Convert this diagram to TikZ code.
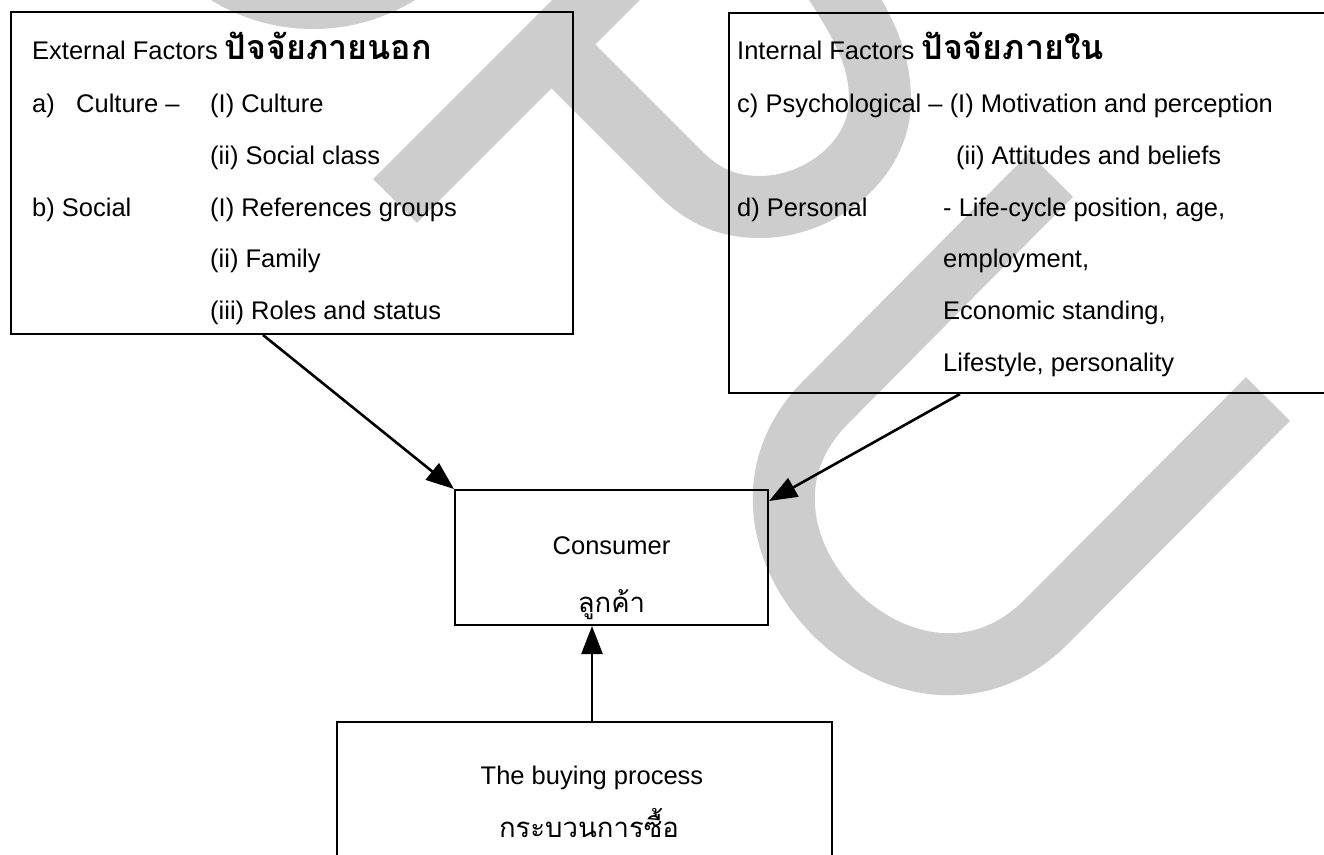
\documentclass[tikz,border=0pt]{standalone}
\usepackage{fontspec}
\setmainfont{Liberation Sans}
\newfontfamily\thaifont[Script=Thai]{Loma}
\usetikzlibrary{arrows.meta,calc}
\definecolor{wmgray}{RGB}{205,205,205}
\newcommand{\thaihead}[1]{{\thaifont\bfseries\fontsize{34}{36}\selectfont #1}}
\begin{document}
\begin{tikzpicture}[x=1pt,y=-1pt,
  box/.style={draw=black,line width=2pt,rectangle,inner sep=0pt},
  lbl/.style={anchor=base west,inner sep=0pt,font=\fontsize{25.5}{30}\selectfont},
  mid/.style={anchor=base,inner sep=0pt,font=\fontsize{25.5}{30}\selectfont},
  thaimid/.style={anchor=base,inner sep=0pt,font=\thaifont\fontsize{27.5}{30}\selectfont},
  arr/.style={line width=2.6pt,-{Triangle[length=28pt,width=21pt]}},
  wm/.style={draw=wmgray,line width=62pt,line cap=butt}]

\useasboundingbox (0,0) rectangle (1324,854);
\fill[white] (0,0) rectangle (1324,854);
\clip (0,0) rectangle (1324,854);

% background logo strokes
\draw[wm] (313,-165) circle[radius=163];
\draw[wm] (395,201) -- (650,-54);
\draw[wm] (551,44) -- (680,173) .. controls (705,198) and (730,207) .. (760,207)
  .. controls (820,207) and (880,160) .. (880,100)
  .. controls (880,50) and (855,15) .. (830,-25);
\draw[wm] (1051,175) -- (826,402) .. controls (691,537) and (911,757) .. (1046,622) -- (1268,399);

% boxes
\node[box, minimum width=562pt, minimum height=322pt] (ext) at (292,173) {};
\node[box, minimum width=631pt, minimum height=380pt] (int) at (1044.5,203) {};
\node[box, minimum width=313pt, minimum height=135pt] (cons) at (611.5,557.5) {};
\node[box, minimum width=495pt, minimum height=178pt] (buy) at (584.5,811) {};

% external factors
\node[lbl] (exth) at (32,59) {External Factors \thaihead{ปัจจัยภายนอก}};
\node[lbl] (ea) at (32,112) {a)};
\node[lbl] (eac) at (76,112) {Culture –};
\node[lbl] (e1) at (210,112) {(I) Culture};
\node[lbl] (e2) at (210,164) {(ii) Social class};
\node[lbl] (eb) at (32,216) {b) Social};
\node[lbl] (e3) at (210,216) {(I) References groups};
\node[lbl] (e4) at (210,267) {(ii) Family};
\node[lbl] (e5) at (210,319) {(iii) Roles and status};

% internal factors
\node[lbl] (inth) at (737,59) {Internal Factors \thaihead{ปัจจัยภายใน}};
\node[lbl] (ic) at (737,112) {c) Psychological – (I) Motivation and perception};
\node[lbl] (ic2) at (956,164) {(ii) Attitudes and beliefs};
\node[lbl] (id) at (737,216) {d) Personal};
\node[lbl] (id1) at (943,216) {- Life-cycle position, age,};
\node[lbl] (id2) at (943,267) {employment,};
\node[lbl] (id3) at (943,319) {Economic standing,};
\node[lbl] (id4) at (943,371) {Lifestyle, personality};

% consumer
\node[mid] (cons1) at (611.5,554) {Consumer};
\node[thaimid] (cons2) at (611.5,612) {ลูกค้า};

% buying process
\node[mid] (buy1) at (592,784) {The buying process};
\node[thaimid] (buy2) at (589,837) {กระบวนการซื้อ};

% connectors
\draw[arr] ([xshift=-29pt]ext.south) -- (cons.north west);
\draw[arr] ([xshift=-84.5pt]int.south) -- ([yshift=-12pt]cons.north east);
\draw[arr] ([xshift=7.5pt]buy.north) -- ([xshift=7.5pt]buy.north |- cons.south);
\end{tikzpicture}
\end{document}
